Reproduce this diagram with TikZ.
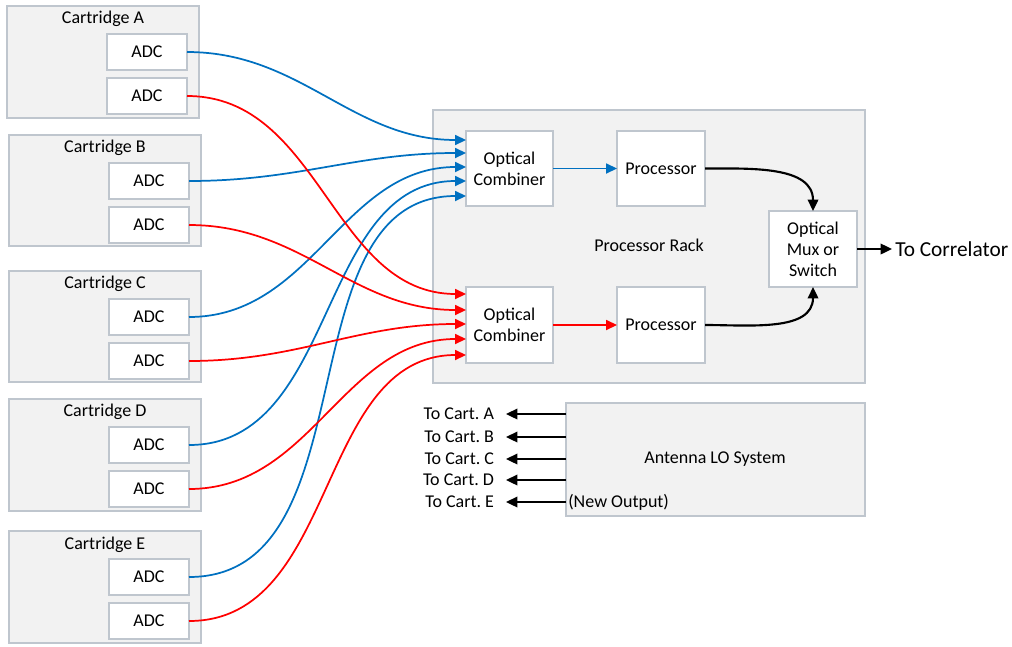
\documentclass[tikz,border=0pt]{standalone}
\usepackage{fontspec}
\setmainfont{Carlito}
\usetikzlibrary{arrows.meta,calc}
\definecolor{edgegray}{HTML}{BFC6CE}
\definecolor{panel}{HTML}{F2F2F2}
\definecolor{fibblue}{HTML}{0070C0}
\definecolor{fibred}{HTML}{FF0000}
\frenchspacing
\begin{document}
\begin{tikzpicture}[x=0.75pt,y=-0.75pt,
  font=\fontsize{13.5pt}{15.8pt}\selectfont,
  wh/.style 2 args={minimum width=#1*0.75pt,minimum height=#2*0.75pt},
  panelbox/.style={draw=edgegray,fill=panel,line width=0.8pt,inner sep=0pt,outer sep=0pt},
  unitbox/.style={draw=edgegray,fill=white,line width=0.8pt,inner sep=0pt,outer sep=0pt,align=center},
  tip/.style={-{Triangle[length=8.2pt,width=7.5pt]}},
  bluefib/.style={tip,draw=fibblue,line width=1.3pt},
  redfib/.style={tip,draw=fibred,line width=1.3pt},
  blackline/.style={-{Triangle[length=8.5pt,width=7.8pt]},draw=black,line width=1.6pt},
  lolabel/.style={anchor=east,inner xsep=9pt,inner ysep=0pt,outer sep=0pt}]
\useasboundingbox (0,0) rectangle (1012,646);

% cartridges
\node[panelbox,wh={192}{112}] (cA) at (103,62) {};
\node[panelbox,wh={192}{111}] (cB) at (105,190.5) {};
\node[panelbox,wh={192}{111}] (cC) at (105,326.5) {};
\node[panelbox,wh={192}{112}] (cD) at (105,455) {};
\node[panelbox,wh={192}{112}] (cE) at (105,587) {};
\node (tA) at (103,19) {Cartridge A};
\node (tB) at (105,148) {Cartridge B};
\node (tC) at (105,284) {Cartridge C};
\node (tD) at (105,412) {Cartridge D};
\node (tE) at (105,545) {Cartridge E};

% ADCs
\node[unitbox,wh={80}{36}] (a1) at (147,52) {ADC};
\node[unitbox,wh={80}{36}] (a2) at (147,96) {ADC};
\node[unitbox,wh={80}{36}] (b1) at (149,181) {ADC};
\node[unitbox,wh={80}{36}] (b2) at (149,225) {ADC};
\node[unitbox,wh={80}{36}] (c1) at (149,317) {ADC};
\node[unitbox,wh={80}{36}] (c2) at (149,361) {ADC};
\node[unitbox,wh={80}{36}] (d1) at (149,445) {ADC};
\node[unitbox,wh={80}{36}] (d2) at (149,489) {ADC};
\node[unitbox,wh={80}{36}] (e1) at (149,577) {ADC};
\node[unitbox,wh={80}{36}] (e2) at (149,621) {ADC};

% processor rack
\node[panelbox,wh={432}{273}] (rack) at (649,246.5) {};
\node (racklbl) at (649,245) {Processor Rack};
\node[unitbox,wh={87}{75}] (oc1) at (509.5,168.5) {Optical\\Combiner};
\node[unitbox,wh={87}{76}] (oc2) at (509.5,325) {Optical\\Combiner};
\node[unitbox,wh={88}{75}] (p1) at (661,168.5) {Processor};
\node[unitbox,wh={88}{76}] (p2) at (661,325) {Processor};
\node[unitbox,wh={88}{76}] (mux) at (813,249) {Optical\\Mux or\\Switch};
\node[anchor=west,inner sep=0pt,font=\fontsize{16pt}{19pt}\selectfont] (corr) at (895,249) {To Correlator};

% fibres into the combiners
\draw[bluefib] (a1.east) to[out=0,in=180] ($(oc1.west)+(0,-28.5)$);
\draw[bluefib] (b1.east) to[out=0,in=180] ($(oc1.west)+(0,-15.5)$);
\draw[bluefib] (c1.east) to[out=0,in=180] ($(oc1.west)+(0,-1.5)$);
\draw[bluefib] (d1.east) to[out=0,in=180] ($(oc1.west)+(0,12.5)$);
\draw[bluefib] (e1.east) to[out=0,in=180] ($(oc1.west)+(0,27.5)$);
\draw[redfib] (a2.east) to[out=0,in=180] ($(oc2.west)+(0,-31)$);
\draw[redfib] (b2.east) to[out=0,in=180] ($(oc2.west)+(0,-15)$);
\draw[redfib] (c2.east) to[out=0,in=180] ($(oc2.west)+(0,-1)$);
\draw[redfib] (d2.east) to[out=0,in=180] ($(oc2.west)+(0,14)$);
\draw[redfib] (e2.east) to[out=0,in=180] ($(oc2.west)+(0,30)$);

% combiners to processors
\draw[bluefib] (oc1.east) -- (p1.west);
\draw[redfib] (oc2.east) -- (p2.west);

% processors to mux, mux out
\draw[blackline] (p1.east) to[out=0,in=90] (mux.north);
\draw[blackline] (p2.east) to[out=0,in=-90] (mux.south);
\draw[blackline] (mux.east) -- ($(corr.west)+(-3,0)$);

% antenna LO system
\node[panelbox,wh={299}{113}] (lo) at (715.5,459.5) {};
\node (lolbl) at (715,459) {Antenna LO System};
\node[anchor=west,inner sep=0pt] (newout) at (568,502) {(New Output)};
\node[lolabel] (ta) at (506,414) {To Cart. A};
\node[lolabel] (tb) at (506,437) {To Cart. B};
\node[lolabel] (tc) at (506,459) {To Cart. C};
\node[lolabel] (td) at (506,480) {To Cart. D};
\node[lolabel] (te) at (506,502) {To Cart. E};
\draw[blackline] (lo.west |- ta) -- (ta);
\draw[blackline] (lo.west |- tb) -- (tb);
\draw[blackline] (lo.west |- tc) -- (tc);
\draw[blackline] (lo.west |- td) -- (td);
\draw[blackline] (lo.west |- te) -- (te);
\end{tikzpicture}
\end{document}
